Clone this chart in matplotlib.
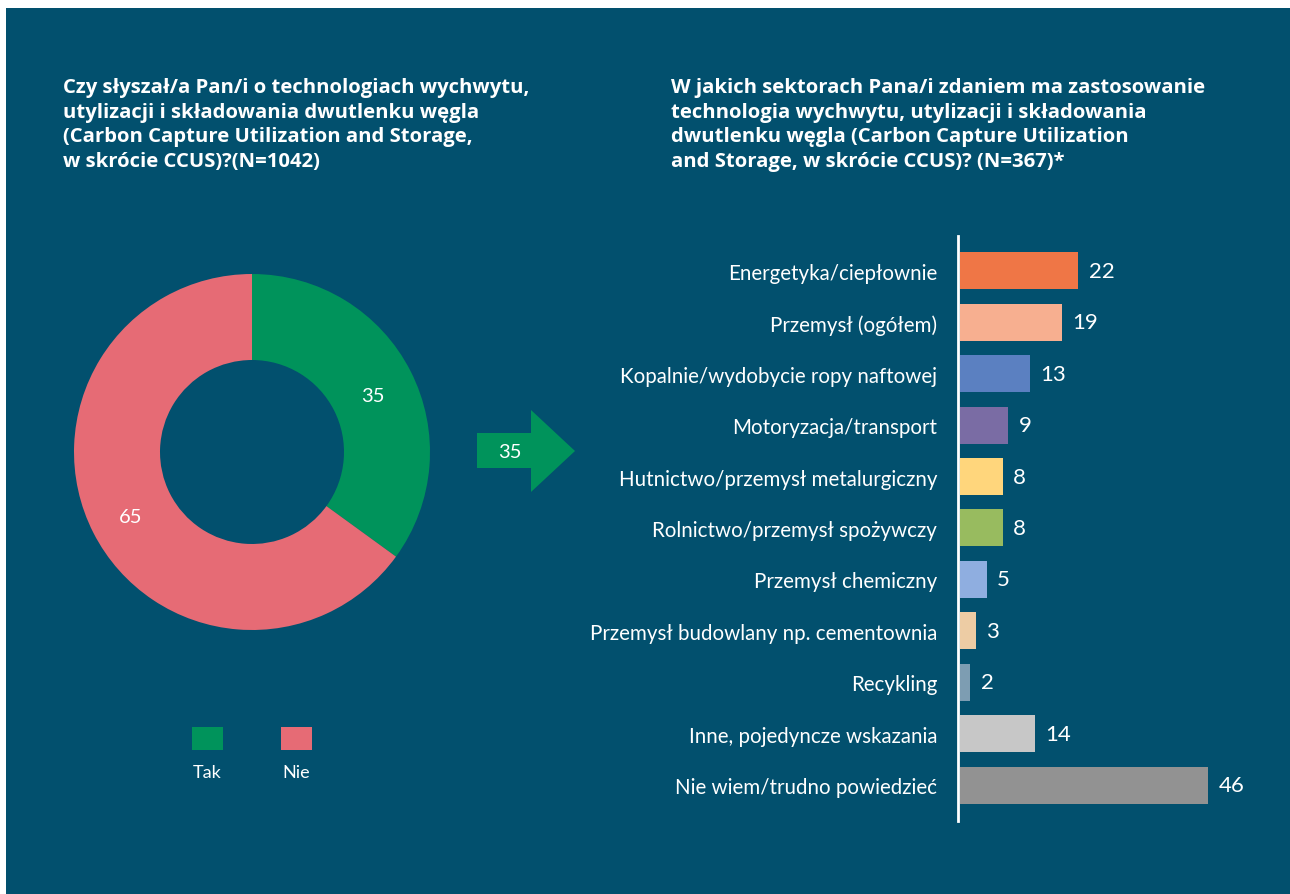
import matplotlib.pyplot as plt
import matplotlib.patches as mpatches

plt.rcParams['font.family'] = ['Lato', 'DejaVu Sans']

# dane
pie_labels = ["Tak", "Nie"]
pie_values = [35, 65]
pie_colors = ["#00935B", "#E66B75"]

sectors = [
    "Energetyka/ciepłownie",
    "Przemysł (ogółem)",
    "Kopalnie/wydobycie ropy naftowej",
    "Motoryzacja/transport",
    "Hutnictwo/przemysł metalurgiczny",
    "Rolnictwo/przemysł spożywczy",
    "Przemysł chemiczny",
    "Przemysł budowlany np. cementownia",
    "Recykling",
    "Inne, pojedyncze wskazania",
    "Nie wiem/trudno powiedzieć",
]
sector_values = [22, 19, 13, 9, 8, 8, 5, 3, 2, 14, 46]
sector_colors = ["#EF7646", "#F7AF90", "#5B80C1", "#7A6CA4", "#FFD67C",
                 "#98BB5F", "#8FAEE0", "#EDCCA4", "#7D9DB2", "#C7C7C7", "#929292"]

title_left = ("Czy słyszał/a Pan/i o technologiach wychwytu,\n"
              "utylizacji i składowania dwutlenku węgla\n"
              "(Carbon Capture Utilization and Storage,\n"
              "w skrócie CCUS)?(N=1042)")
title_right = ("W jakich sektorach Pana/i zdaniem ma zastosowanie\n"
               "technologia wychwytu, utylizacji i składowania\n"
               "dwutlenku węgla (Carbon Capture Utilization\n"
               "and Storage, w skrócie CCUS)? (N=367)*")

BG = "#02506E"
W, H = 1290, 895

fig = plt.figure(figsize=(12.9, 8.95), dpi=100)
fig.patch.set_facecolor("white")


def fx(x):
    return x / W


def fy(y):
    return 1 - y / H


# tło panelu
fig.patches.append(mpatches.Rectangle((fx(6), 0), 1 - fx(6), fy(9),
                                      transform=fig.transFigure,
                                      facecolor=BG, edgecolor="none", zorder=-10))

# tytuły
title_font = ['Open Sans', 'DejaVu Sans']
fig.text(fx(63), fy(78), title_left, color="white", fontsize=14.6, fontweight="bold",
         va="top", ha="left", linespacing=1.31, family=title_font)
fig.text(fx(671), fy(78), title_right, color="white", fontsize=14.6, fontweight="bold",
         va="top", ha="left", linespacing=1.31, family=title_font)

# wykres pierścieniowy
cx, cy, r = 252, 453, 178
ax1 = fig.add_axes([fx(cx - r), fy(cy + r), 2 * r / W, 2 * r / H])
ax1.pie(pie_values, colors=pie_colors, startangle=90, counterclock=False,
        radius=1, wedgeprops=dict(width=(178 - 92) / 178, edgecolor="none"))
ax1.set_xlim(-1, 1)
ax1.set_ylim(-1, 1)
ax1.axis("off")
ax1.text(0.68, 0.32, str(pie_values[0]), color="white", fontsize=14.5,
         ha="center", va="center")
ax1.text(-0.68, -0.36, str(pie_values[1]), color="white", fontsize=14.5,
         ha="center", va="center")

# legenda
for i, (lab, col) in enumerate(zip(pie_labels, pie_colors)):
    x0 = 192 + i * 89
    fig.patches.append(mpatches.Rectangle((fx(x0), fy(751)), 31 / W, 23 / H,
                                          transform=fig.transFigure,
                                          facecolor=col, edgecolor="none"))
    fig.text(fx(x0 + 15), fy(773), lab, color="white", fontsize=13,
             ha="center", va="center")

# strzałka
arrow_pts = [(477, 434), (531, 434), (531, 411), (575, 452), (531, 493),
             (531, 469), (477, 469)]
fig.patches.append(mpatches.Polygon([(fx(x), fy(y)) for x, y in arrow_pts],
                                    closed=True, transform=fig.transFigure,
                                    facecolor=pie_colors[0], edgecolor="none"))
fig.text(fx(510), fy(453), str(pie_values[0]), color="white", fontsize=14.5,
         ha="center", va="center")

# wykres słupkowy
ax2 = fig.add_axes([fx(958), fy(822), 1 - fx(958), (822 - 237) / H])
ax2.set_facecolor("none")
ypos = list(range(len(sectors)))
ax2.barh(ypos, sector_values, color=sector_colors, height=0.72, left=0.3)
ax2.set_xlim(0, (W - 958) / 5.4)
ax2.set_ylim(10.70, -0.68)
ax2.set_yticks(ypos)
ax2.set_yticklabels(sectors, color="white", fontsize=14.8)
ax2.tick_params(axis="y", length=0, pad=15)
ax2.set_xticks([])
for s in ["top", "right", "bottom"]:
    ax2.spines[s].set_visible(False)
ax2.spines["left"].set_color("white")
ax2.spines["left"].set_linewidth(2)
for y, v in zip(ypos, sector_values):
    ax2.text(v + 0.3 + 1.9, y, str(v), color="white", fontsize=16,
             ha="left", va="center")

plt.savefig("out.png", dpi=100, facecolor=fig.get_facecolor())
